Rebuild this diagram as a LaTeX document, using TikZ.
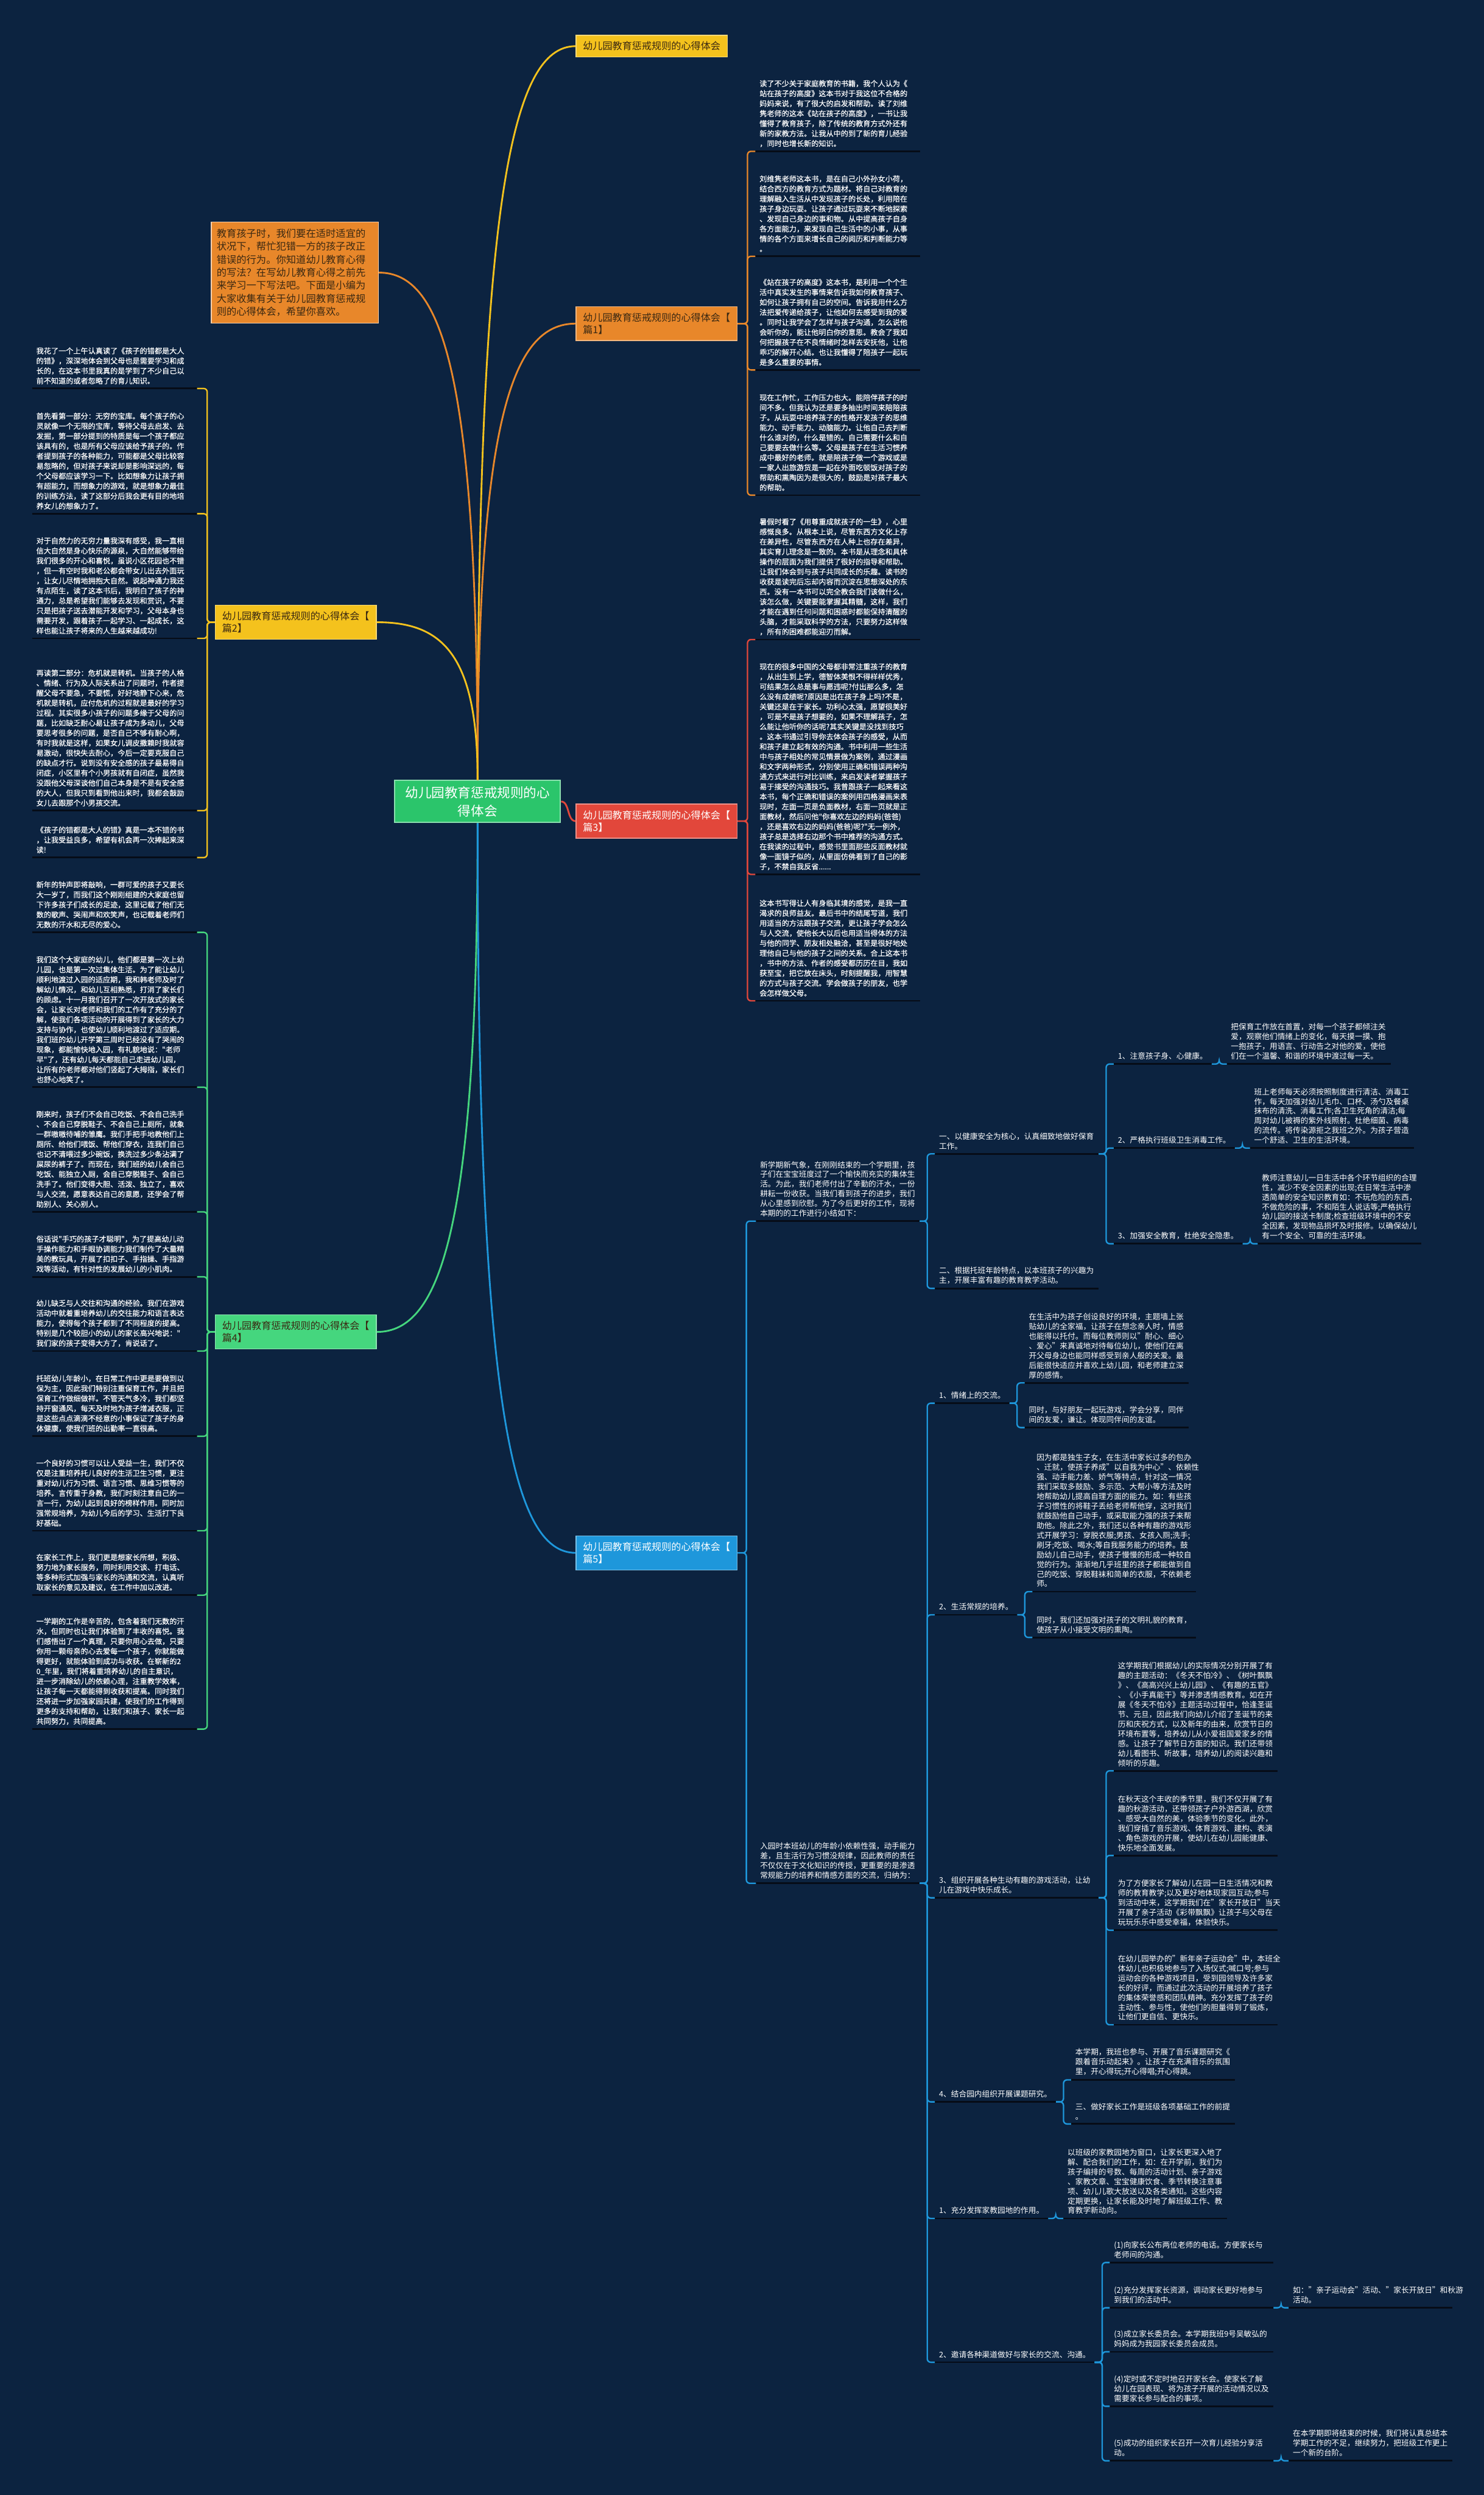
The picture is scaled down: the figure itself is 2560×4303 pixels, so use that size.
\documentclass[tikz,border=0pt]{standalone}
\usepackage{fontspec}
\setmainfont{Noto Sans CJK SC}
\newfontfamily\heavycjk[FakeBold=0.5]{Noto Sans CJK SC}
\definecolor{Navy}{HTML}{0C2340}
\definecolor{Ink}{HTML}{060C17}
\definecolor{RootGreen}{HTML}{2BC56B}
\definecolor{MapYellow}{HTML}{F4C21D}
\definecolor{MapOrange}{HTML}{E8872A}
\definecolor{MapRed}{HTML}{E2473B}
\definecolor{MapGreen}{HTML}{45D67E}
\definecolor{MapBlue}{HTML}{1E97DB}
\definecolor{Brown}{HTML}{3A2812}

\begin{document}
\begin{tikzpicture}[x=0.02cm, y=-0.02cm,
    root/.style={rectangle, fill=RootGreen, draw=RootGreen!55!white, line width=0.04cm, text=white, align=center, minimum width=5.72cm, inner xsep=0.3cm, inner ysep=0.2cm, font=\fontsize{12.9pt}{18pt}\selectfont},
    branch/.style={rectangle, fill=#1, draw=#1!60!white, line width=0.03cm, align=left, inner xsep=0.24cm, inner ysep=0.22cm, font=\fontsize{9.64pt}{11.9pt}\selectfont},
    intro/.style={rectangle, fill=MapOrange, draw=MapOrange!40!white, line width=0.03cm, text=Brown, text width=5.4cm, align=left, inner xsep=0.18cm, inner ysep=0.24cm, font=\fontsize{9.75pt}{12.75pt}\selectfont},
    blk/.style={text=white, text width=5.4cm, align=left, inner xsep=0.14cm, inner ysep=0.14cm, font=\heavycjk\fontsize{7.26pt}{9.81pt}\selectfont},
    sblk/.style={text=white, text width=5.36cm, align=left, inner xsep=0.14cm, inner ysep=0.14cm, anchor=south west, font=\fontsize{7.6pt}{9.52pt}\selectfont},
    lbl/.style={text=white, align=left, inner xsep=0.14cm, inner ysep=0.14cm, anchor=south west, font=\fontsize{7.6pt}{9.52pt}\selectfont},
    uline/.style={draw=Ink, line width=0.06cm},
    link/.style={draw=#1, line width=0.05cm, rounded corners=0.12cm},
    curve/.style={draw=#1, line width=0.06cm}
]
\fill[Navy] (0,0) rectangle (2560,4303);
\useasboundingbox (0,0) rectangle (2560,4303);

% root and main branches
\node[root, anchor=north west] (root) at (680,1345) {幼儿园教育惩戒规则的心\\得体会};
\node[branch=MapYellow, text=Brown, anchor=north west] (y1) at (993,60) {幼儿园教育惩戒规则的心得体会};
\node[branch=MapOrange, text=Brown, anchor=north west] (n1) at (993,528) {幼儿园教育惩戒规则的心得体会【\\篇1】};
\node[intro, anchor=north west] (intro) at (364,382) {教育孩子时，我们要在适时适宜的\\状况下，帮忙犯错一方的孩子改正\\错误的行为。你知道幼儿教育心得\\的写法？在写幼儿教育心得之前先\\来学习一下写法吧。下面是小编为\\大家收集有关于幼儿园教育惩戒规\\则的心得体会，希望你喜欢。};
\node[branch=MapYellow, text=Brown, anchor=north east] (n2) at (650,1043) {幼儿园教育惩戒规则的心得体会【\\篇2】};
\node[branch=MapRed, text=white, anchor=north west] (n3) at (993,1386) {幼儿园教育惩戒规则的心得体会【\\篇3】};
\node[branch=MapGreen, text=Brown, anchor=north east] (n4) at (650,2267) {幼儿园教育惩戒规则的心得体会【\\篇4】};
\node[branch=MapBlue, text=white, anchor=north west] (n5) at (993,2648) {幼儿园教育惩戒规则的心得体会【\\篇5】};

\draw[curve=MapYellow] (root.north) .. controls +(0,-1000) and +(-110,0) .. (y1.west);
\draw[curve=MapOrange] (root.north) .. controls +(0,-620) and +(-110,0) .. (n1.west);
\draw[curve=MapOrange] (root.north) .. controls +(0,-700) and +(110,0) .. (intro.east);
\draw[curve=MapYellow] (root.north) .. controls +(0,-220) and +(110,0) .. (n2.east);
\draw[curve=MapRed] (root.east) .. controls +(15,0) and +(-15,0) .. (n3.west);
\draw[curve=MapGreen] (root.south) .. controls +(0,700) and +(110,0) .. (n4.east);
\draw[curve=MapBlue] (root.south) .. controls +(0,1000) and +(-110,0) .. (n5.west);

% 篇1
\node[blk, anchor=south west] (b11) at (1303,261) {读了不少关于家庭教育的书籍，我个人认为《\\站在孩子的高度》这本书对于我这位不合格的\\妈妈来说，有了很大的启发和帮助。读了刘维\\隽老师的这本《站在孩子的高度》，一书让我\\懂得了教育孩子，除了传统的教育方式外还有\\新的家教方法。让我从中的到了新的育儿经验\\，同时也增长新的知识。};
\node[blk, anchor=south west] (b12) at (1303,442) {刘维隽老师这本书，是在自己小外孙女小荷，\\结合西方的教育方式为题材。将自己对教育的\\理解融入生活从中发现孩子的长处，利用陪在\\孩子身边玩耍。让孩子通过玩耍来不断地探索\\、发现自己身边的事和物。从中提高孩子自身\\各方面能力，来发现自己生活中的小事，从事\\情的各个方面来增长自己的阅历和判断能力等\\。};
\node[blk, anchor=south west] (b13) at (1303,638) {《站在孩子的高度》这本书，是利用一个个生\\活中真实发生的事情来告诉我如何教育孩子、\\如何让孩子拥有自己的空间。告诉我用什么方\\法把爱传递给孩子，让他如何去感受到我的爱\\。同时让我学会了怎样与孩子沟通，怎么说他\\会听你的，能让他明白你的意思。教会了我如\\何把握孩子在不良情绪时怎样去安抚他，让他\\乖巧的解开心结。也让我懂得了陪孩子一起玩\\是多么重要的事情。};
\node[blk, anchor=south west] (b14) at (1303,854) {现在工作忙，工作压力也大。能陪伴孩子的时\\间不多。但我认为还是要多抽出时间来陪陪孩\\子。从玩耍中培养孩子的性格开发孩子的思维\\能力、动手能力、动脑能力。让他自己去判断\\什么谁对的，什么是错的。自己需要什么和自\\己要要去做什么等。父母是孩子在生活习惯养\\成中最好的老师。就是陪孩子做一个游戏或是\\一家人出旅游货是一起在外面吃顿饭对孩子的\\帮助和熏陶因为是很大的，鼓励是对孩子最大\\的帮助。};

% 篇3
\node[blk, anchor=south west] (b31) at (1303,1103) {暑假时看了《用尊重成就孩子的一生》，心里\\感慨良多。从根本上说，尽管东西方文化上存\\在差异性，尽管东西方在人种上也存在差异，\\其实育儿理念是一致的。本书是从理念和具体\\操作的层面为我们提供了很好的指导和帮助。\\让我们体会到与孩子共同成长的乐趣。读书的\\收获是读完后忘却内容而沉淀在思想深处的东\\西。没有一本书可以完全教会我们该做什么，\\该怎么做，关键要能掌握其精髓，这样，我们\\才能在遇到任何问题和困惑时都能保持清醒的\\头脑，才能采取科学的方法，只要努力这样做\\，所有的困难都能迎刃而解。};
\node[blk, anchor=south west] (b32) at (1303,1508) {现在的很多中国的父母都非常注重孩子的教育\\，从出生到上学，德智体美恨不得样样优秀，\\可结果怎么总是事与愿违呢?付出那么多，怎\\么没有成绩呢?原因是出在孩子身上吗?不是，\\关键还是在于家长。功利心太强，愿望很美好\\，可是不是孩子想要的，如果不理解孩子，怎\\么能让他听你的话呢?其实关键是没找到技巧\\。这本书通过引导你去体会孩子的感受，从而\\和孩子建立起有效的沟通。书中利用一些生活\\中与孩子相处的常见情景做为案例，通过漫画\\和文字两种形式，分别使用正确和错误两种沟\\通方式来进行对比训练，来启发读者掌握孩子\\易于接受的沟通技巧。我曾跟孩子一起来看这\\本书，每个正确和错误的案例用四格漫画来表\\现时，左面一页是负面教材，右面一页就是正\\面教材，然后问他"你喜欢左边的妈妈(爸爸)\\，还是喜欢右边的妈妈(爸爸)呢?"无一例外，\\孩子总是选择右边那个书中推荐的沟通方式。\\在我读的过程中，感觉书里面那些反面教材就\\像一面镜子似的，从里面仿佛看到了自己的影\\子，不禁自我反省......};
\node[blk, anchor=south west] (b33) at (1303,1726) {这本书写得让人有身临其境的感觉，是我一直\\渴求的良师益友。最后书中的结尾写道，我们\\用适当的方法跟孩子交流，更让孩子学会怎么\\与人交流，使他长大以后也用适当得体的方法\\与他的同学、朋友相处融洽，甚至是很好地处\\理他自己与他的孩子之间的关系。合上这本书\\，书中的方法、作者的感受都历历在目，我如\\获至宝，把它放在床头，时刻提醒我，用智慧\\的方式与孩子交流。学会做孩子的朋友，也学\\会怎样做父母。};

% 篇2
\node[blk, anchor=south east] (b21) at (340,670) {我花了一个上午认真读了《孩子的错都是大人\\的错》，深深地体会到父母也是需要学习和成\\长的，在这本书里我真的是学到了不少自己以\\前不知道的或者忽略了的育儿知识。};
\node[blk, anchor=south east] (b22) at (340,886) {首先看第一部分：无穷的宝库。每个孩子的心\\灵就像一个无限的宝库，等待父母去启发、去\\发掘，第一部分提到的特质是每一个孩子都应\\该具有的，也是所有父母应该给予孩子的。作\\者提到孩子的各种能力，可能都是父母比较容\\易忽略的，但对孩子来说却是影响深远的，每\\个父母都应该学习一下。比如想象力让孩子拥\\有超能力，而想象力的游戏，就是想象力最佳\\的训练方法，读了这部分后我会更有目的地培\\养女儿的想象力了。};
\node[blk, anchor=south east] (b23) at (340,1101) {对于自然力的无穷力量我深有感受，我一直相\\信大自然是身心快乐的源泉，大自然能够带给\\我们很多的开心和喜悦，虽说小区花园也不错\\，但一有空时我和老公都会带女儿出去外面玩\\，让女儿尽情地拥抱大自然。说起神通力我还\\有点陌生，读了这本书后，我明白了孩子的神\\通力，总是希望我们能够去发现和赏识，不要\\只是把孩子送去潜能开发和学习，父母本身也\\需要开发，跟着孩子一起学习、一起成长，这\\样也能让孩子将来的人生越来越成功!};
\node[blk, anchor=south east] (b24) at (340,1398) {再读第二部分：危机就是转机。当孩子的人格\\、情绪、行为及人际关系出了问题时，作者提\\醒父母不要急，不要慌，好好地静下心来，危\\机就是转机，应付危机的过程就是最好的学习\\过程。其实很多小孩子的问题多缘于父母的问\\题，比如缺乏耐心易让孩子成为多动儿，父母\\要思考很多的问题，是否自己不够有耐心啊，\\有时我就是这样，如果女儿调皮撒赖时我就容\\易激动，很快失去耐心，今后一定要克服自己\\的缺点才行。说到没有安全感的孩子最易得自\\闭症，小区里有个小男孩就有自闭症，虽然我\\没跟他父母深谈他们自己本身是不是有安全感\\的大人，但我只到看到他出来时，我都会鼓励\\女儿去跟那个小男孩交流。};
\node[blk, anchor=south east] (b25) at (340,1479) {《孩子的错都是大人的错》真是一本不错的书\\，让我受益良多，希望有机会再一次捧起来深\\读!};

% 篇4
\node[blk, anchor=south east] (b41) at (340,1608) {新年的钟声即将敲响，一群可爱的孩子又要长\\大一岁了，而我们这个刚刚组建的大家庭也留\\下许多孩子们成长的足迹，这里记载了他们无\\数的歌声、哭闹声和欢笑声，也记载着老师们\\无数的汗水和无尽的爱心。};
\node[blk, anchor=south east] (b42) at (340,1875) {我们这个大家庭的幼儿，他们都是第一次上幼\\儿园，也是第一次过集体生活。为了能让幼儿\\顺利地渡过入园的适应期，我和韩老师及时了\\解幼儿情况，和幼儿互相熟悉，打消了家长们\\的顾虑。十一月我们召开了一次开放式的家长\\会，让家长对老师和我们的工作有了充分的了\\解，使我们各项活动的开展得到了家长的大力\\支持与协作，也使幼儿顺利地渡过了适应期。\\我们班的幼儿开学第三周时已经没有了哭闹的\\现象，都能愉快地入园，有礼貌地说："老师\\早"了，还有幼儿每天都能自己走进幼儿园，\\让所有的老师都对他们竖起了大拇指，家长们\\也舒心地笑了。};
\node[blk, anchor=south east] (b43) at (340,2090) {刚来时，孩子们不会自己吃饭、不会自己洗手\\、不会自己穿脱鞋子、不会自己上厕所，就象\\一群嗷嗷待哺的雏鹰。我们手把手地教他们上\\厕所、给他们喂饭、帮他们穿衣，连我们自己\\也记不清喂过多少碗饭，换洗过多少条沾满了\\屎尿的裤子了。而现在，我们班的幼儿会自己\\吃饭、能独立入厕，会自己穿脱鞋子、会自己\\洗手了。他们变得大胆、活泼、独立了，喜欢\\与人交流，愿意表达自己的意愿，还学会了帮\\助别人、关心别人。};
\node[blk, anchor=south east] (b44) at (340,2202) {俗话说"手巧的孩子才聪明"，为了提高幼儿动\\手操作能力和手眼协调能力我们制作了大量精\\美的教玩具，开展了扣扣子、手指操、手指游\\戏等活动，有针对性的发展幼儿的小肌肉。};
\node[blk, anchor=south east] (b45) at (340,2330) {幼儿缺乏与人交往和沟通的经验。我们在游戏\\活动中就着重培养幼儿的交往能力和语言表达\\能力，使得每个孩子都到了不同程度的提高。\\特别是几个较胆小的幼儿的家长高兴地说："\\我们家的孩子变得大方了，肯说话了。};
\node[blk, anchor=south east] (b46) at (340,2477) {托班幼儿年龄小，在日常工作中更是要做到以\\保为主，因此我们特别注重保育工作，并且把\\保育工作做细做祥。不管天气多冷，我们都坚\\持开窗通风，每天及时地为孩子增减衣服，正\\是这些点点滴滴不经意的小事保证了孩子的身\\体健康，使我们班的出勤率一直很高。};
\node[blk, anchor=south east] (b47) at (340,2640) {一个良好的习惯可以让人受益一生，我们不仅\\仅是注重培养托儿良好的生活卫生习惯，更注\\重对幼儿行为习惯、语言习惯、思维习惯等的\\培养。言传重于身教，我们时刻注意自己的一\\言一行，为幼儿起到良好的榜样作用。同时加\\强常规培养，为幼儿今后的学习、生活打下良\\好基础。};
\node[blk, anchor=south east] (b48) at (340,2751) {在家长工作上，我们更是想家长所想，积极、\\努力地为家长服务，同时利用交谈、打电话、\\等多种形式加强与家长的沟通和交流，认真听\\取家长的意见及建议，在工作中加以改进。};
\node[blk, anchor=south east] (b49) at (340,2982) {一学期的工作是辛苦的，包含着我们无数的汗\\水，但同时也让我们体验到了丰收的喜悦。我\\们感悟出了一个真理，只要你用心去做，只要\\你用一颗母亲的心去爱每一个孩子，你就能做\\得更好，就能体验到成功与收获。在崭新的2\\0\_年里，我们将着重培养幼儿的自主意识，\\进一步消除幼儿的依赖心理，注重教学效率，\\让孩子每一天都能得到收获和提高。同时我们\\还将进一步加强家园共建，使我们的工作得到\\更多的支持和帮助，让我们和孩子、家长一起\\共同努力，共同提高。};

% 篇5
\node[sblk] (p1) at (1304,2106) {新学期新气象，在刚刚结束的一个学期里，孩\\子们在宝宝班度过了一个愉快而充实的集体生\\活。为此，我们老师付出了辛勤的汗水，一份\\耕耘一份收获。当我们看到孩子的进步，我们\\从心里感到欣慰。为了今后更好的工作，现将\\本期的的工作进行小结如下：};
\node[sblk] (p2) at (1304,3248) {入园时本班幼儿的年龄小依赖性强，动手能力\\差，且生活行为习惯没规律，因此教师的责任\\不仅仅在于文化知识的传授，更重要的是渗透\\常规能力的培养和情感方面的交流，归纳为：};

\node[sblk] (c1) at ([shift={(26,-116)}]p1.south east) {一、以健康安全为核心，认真细致地做好保育\\工作。};
\node[sblk] (c2) at ([shift={(26,116)}]p1.south east) {二、根据托班年龄特点，以本班孩子的兴趣为\\主，开展丰富有趣的教育教学活动。};
\node[lbl] (d1) at ([shift={(26,-155)}]c1.south east) {1、注意孩子身、心健康。};
\node[lbl] (d2) at ([shift={(26,-10)}]c1.south east) {2、严格执行班级卫生消毒工作。};
\node[lbl] (d3) at ([shift={(26,155)}]c1.south east) {3、加强安全教育，杜绝安全隐患。};
\node[sblk] (e1) at ([xshift=0.52cm]d1.south east) {把保育工作放在首置，对每一个孩子都倾注关\\爱，观察他们情绪上的变化，每天摸一摸、抱\\一抱孩子，用语言、行动告之对他的爱，使他\\们在一个温馨、和谐的环境中渡过每一天。};
\node[sblk] (e2) at ([xshift=0.52cm]d2.south east) {班上老师每天必须按照制度进行清洁、消毒工\\作，每天加强对幼儿毛巾、口杯、汤勺及餐桌\\抹布的清洗、消毒工作;各卫生死角的清洁;每\\周对幼儿被褥的紫外线照射。杜绝细菌、病毒\\的流传。将传染源拒之我班之外。为孩子营造\\一个舒适、卫生的生活环境。};
\node[sblk] (e3) at ([xshift=0.52cm]d3.south east) {教师注意幼儿一日生活中各个环节组织的合理\\性，减少不安全因素的出现;在日常生活中渗\\透简单的安全知识教育如：不玩危险的东西，\\不做危险的事，不和陌生人说话等;严格执行\\幼儿园的接送卡制度;检查班级环境中的不安\\全因素，发现物品损坏及时报修。以确保幼儿\\有一个安全、可靠的生活环境。};

\node[lbl] (f1) at ([shift={(26,-828)}]p2.south east) {1、情绪上的交流。};
\node[lbl] (f2) at ([shift={(26,-463)}]p2.south east) {2、生活常规的培养。};
\node[sblk] (f3) at ([shift={(26,25)}]p2.south east) {3、组织开展各种生动有趣的游戏活动，让幼\\儿在游戏中快乐成长。};
\node[lbl] (f4) at ([shift={(26,377)}]p2.south east) {4、结合园内组织开展课题研究。};
\node[lbl] (f5) at ([shift={(26,578)}]p2.south east) {1、充分发挥家教园地的作用。};
\node[lbl] (f6) at ([shift={(26,826)}]p2.south east) {2、邀请各种渠道做好与家长的交流、沟通。};

\node[sblk] (g1) at ([shift={(26,-35)}]f1.south east) {在生活中为孩子创设良好的环境，主题墙上张\\贴幼儿的全家福，让孩子在想念亲人时，情感\\也能得以托付。而每位教师则以"耐心、细心\\、爱心"来真诚地对待每位幼儿，使他们在离\\开父母身边也能同样感受到亲人般的关爱。最\\后能很快适应并喜欢上幼儿园，和老师建立深\\厚的感情。};
\node[sblk] (g2) at ([shift={(26,42)}]f1.south east) {同时，与好朋友一起玩游戏，学会分享，同伴\\间的友爱，谦让。体现同伴间的友谊。};
\node[sblk] (g3) at ([shift={(26,-40)}]f2.south east) {因为都是独生子女，在生活中家长过多的包办\\、迁就，使孩子养成"以自我为中心"、依赖性\\强、动手能力差、娇气等特点，针对这一情况\\我们采取多鼓励、多示范、大帮小等方法及时\\地帮助幼儿提高自理方面的能力。如：有些孩\\子习惯性的将鞋子丢给老师帮他穿，这时我们\\就鼓励他自己动手，或采取能力强的孩子来帮\\助他。除此之外，我们还以各种有趣的游戏形\\式开展学习：穿脱衣服;男孩、女孩入厕;洗手;\\刷牙;吃饭、喝水;等自我服务能力的培养。鼓\\励幼儿自己动手，使孩子慢慢的形成一种较自\\觉的行为。渐渐地几乎班里的孩子都能做到自\\己的吃饭、穿脱鞋袜和简单的衣服，不依赖老\\师。};
\node[sblk] (g4) at ([shift={(26,39)}]f2.south east) {同时，我们还加强对孩子的文明礼貌的教育，\\使孩子从小接受文明的熏陶。};

\node[sblk] (h1) at ([shift={(26,-219)}]f3.south east) {这学期我们根据幼儿的实际情况分别开展了有\\趣的主题活动：《冬天不怕冷》、《树叶飘飘\\》、《高高兴兴上幼儿园》、《有趣的五官》\\、《小手真能干》等并渗透情感教育。如在开\\展《冬天不怕冷》主题活动过程中，恰逢圣诞\\节、元旦，因此我们向幼儿介绍了圣诞节的来\\历和庆祝方式，以及新年的由来，欣赏节日的\\环境布置等，培养幼儿从小爱祖国爱家乡的情\\感。让孩子了解节日方面的知识。我们还带领\\幼儿看图书、听故事，培养幼儿的阅读兴趣和\\倾听的乐趣。};
\node[sblk] (h2) at ([shift={(26,-73)}]f3.south east) {在秋天这个丰收的季节里，我们不仅开展了有\\趣的秋游活动，还带领孩子户外游西湖，欣赏\\、感受大自然的美，体验季节的变化。此外，\\我们穿插了音乐游戏、体育游戏、建构、表演\\、角色游戏的开展，使幼儿在幼儿园能健康、\\快乐地全面发展。};
\node[sblk] (h3) at ([shift={(26,56)}]f3.south east) {为了方便家长了解幼儿在园一日生活情况和教\\师的教育教学;以及更好地体现家园互动;参与\\到活动中来，这学期我们在"家长开放日"当天\\开展了亲子活动《彩带飘飘》让孩子与父母在\\玩玩乐乐中感受幸福，体验快乐。};
\node[sblk] (h4) at ([shift={(26,219)}]f3.south east) {在幼儿园举办的"新年亲子运动会"中，本班全\\体幼儿也积极地参与了入场仪式;喊口号;参与\\运动会的各种游戏项目，受到园领导及许多家\\长的好评，而通过此次活动的开展培养了孩子\\的集体荣誉感和团队精神。充分发挥了孩子的\\主动性、参与性，使他们的胆量得到了锻炼，\\让他们更自信、更快乐。};

\node[sblk] (i1) at ([shift={(26,-38)}]f4.south east) {本学期，我班也参与、开展了音乐课题研究《\\跟着音乐动起来》。让孩子在充满音乐的氛围\\里，开心得玩;开心得唱;开心得跳。};
\node[sblk] (i2) at ([shift={(26,38)}]f4.south east) {三、做好家长工作是班级各项基础工作的前提\\。};
\node[sblk] (i3) at ([xshift=0.52cm]f5.south east) {以班级的家教园地为窗口，让家长更深入地了\\解、配合我们的工作，如：在开学前，我们为\\孩子编排的号数、每周的活动计划、亲子游戏\\、家教文章、宝宝健康饮食、季节转换注意事\\项、幼儿儿歌大放送以及各类通知。这些内容\\定期更换，让家长能及时地了解班级工作、教\\育教学新动向。};

\node[sblk] (j1) at ([shift={(26,-172)}]f6.south east) {(1)向家长公布两位老师的电话。方便家长与\\老师间的沟通。};
\node[sblk] (j2) at ([shift={(26,-94)}]f6.south east) {(2)充分发挥家长资源，调动家长更好地参与\\到我们的活动中。};
\node[sblk] (j3) at ([shift={(26,-18)}]f6.south east) {(3)成立家长委员会。本学期我班9号吴敏弘的\\妈妈成为我园家长委员会成员。};
\node[sblk] (j4) at ([shift={(26,76)}]f6.south east) {(4)定时或不定时地召开家长会。使家长了解\\幼儿在园表现、将为孩子开展的活动情况以及\\需要家长参与配合的事项。};
\node[sblk] (j5) at ([shift={(26,170)}]f6.south east) {(5)成功的组织家长召开一次育儿经验分享活\\动。};
\node[sblk] (k1) at ([xshift=0.52cm]j2.south east) {如："亲子运动会"活动、"家长开放日"和秋游\\活动。};
\node[sblk] (k2) at ([xshift=0.52cm]j5.south east) {在本学期即将结束的时候，我们将认真总结本\\学期工作的不足，继续努力，把班级工作更上\\一个新的台阶。};

% underlines
\foreach \n in {b11,b12,b13,b14,b31,b32,b33,b21,b22,b23,b24,b25,b41,b42,b43,b44,b45,b46,b47,b48,b49,p1,p2,c1,c2,d1,d2,d3,e1,e2,e3,f1,f2,f3,f4,f5,f6,g1,g2,g3,g4,h1,h2,h3,h4,i1,i2,i3,j1,j2,j3,j4,j5,k1,k2}
    \draw[uline] (\n.south west) -- (\n.south east);

% brackets
\foreach \c in {b11,b12,b13,b14} \draw[link=MapOrange] (n1.east) -- ++(17,0) |- (\c.south west);
\foreach \c in {b31,b32,b33} \draw[link=MapRed] (n3.east) -- ++(17,0) |- (\c.south west);
\foreach \c in {b21,b22,b23,b24,b25} \draw[link=MapYellow] (n2.west) -- ++(-13,0) |- (\c.south east);
\foreach \c in {b41,b42,b43,b44,b45,b46,b47,b48,b49} \draw[link=MapGreen] (n4.west) -- ++(-13,0) |- (\c.south east);
\foreach \c in {p1,p2} \draw[link=MapBlue] (n5.east) -- ++(15,0) |- (\c.south west);
\foreach \c in {c1,c2} \draw[link=MapBlue] (p1.south east) -- ++(13,0) |- (\c.south west);
\foreach \c in {d1,d2,d3} \draw[link=MapBlue] (c1.south east) -- ++(13,0) |- (\c.south west);
\draw[link=MapBlue] (d1.south east) -- ++(13,0) |- (e1.south west);
\draw[link=MapBlue] (d2.south east) -- ++(13,0) |- (e2.south west);
\draw[link=MapBlue] (d3.south east) -- ++(13,0) |- (e3.south west);
\foreach \c in {f1,f2,f3,f4,f5,f6} \draw[link=MapBlue] (p2.south east) -- ++(13,0) |- (\c.south west);
\foreach \c in {g1,g2} \draw[link=MapBlue] (f1.south east) -- ++(13,0) |- (\c.south west);
\foreach \c in {g3,g4} \draw[link=MapBlue] (f2.south east) -- ++(13,0) |- (\c.south west);
\foreach \c in {h1,h2,h3,h4} \draw[link=MapBlue] (f3.south east) -- ++(13,0) |- (\c.south west);
\foreach \c in {i1,i2} \draw[link=MapBlue] (f4.south east) -- ++(13,0) |- (\c.south west);
\draw[link=MapBlue] (f5.south east) -- ++(13,0) |- (i3.south west);
\foreach \c in {j1,j2,j3,j4,j5} \draw[link=MapBlue] (f6.south east) -- ++(13,0) |- (\c.south west);
\draw[link=MapBlue] (j2.south east) -- ++(13,0) |- (k1.south west);
\draw[link=MapBlue] (j5.south east) -- ++(13,0) |- (k2.south west);
\end{tikzpicture}
\end{document}
